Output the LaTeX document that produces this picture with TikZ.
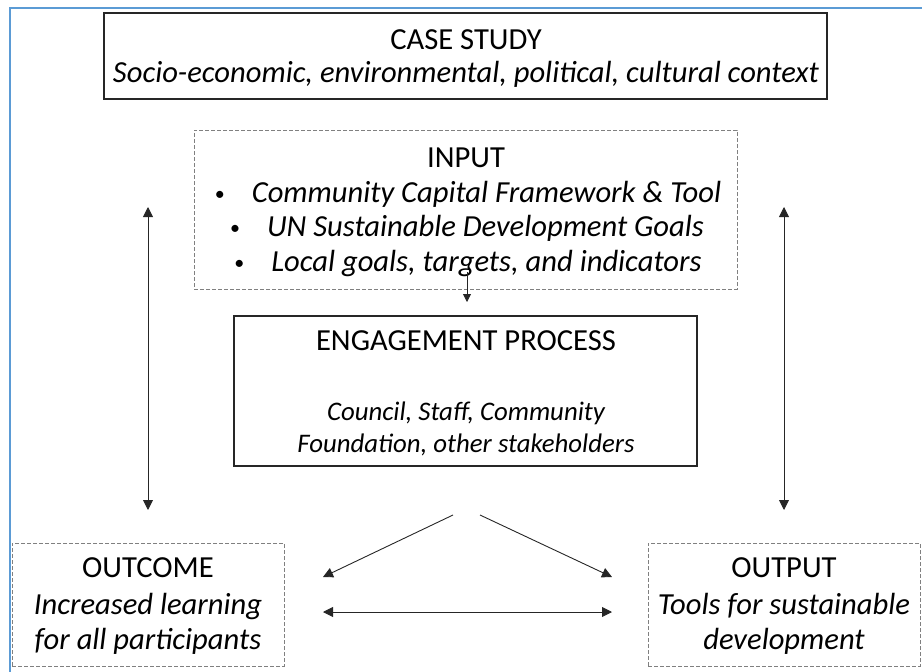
\documentclass[tikz,border=0pt]{standalone}
\usepackage{fontspec}
\setmainfont{Carlito}
\usetikzlibrary{arrows.meta}
\definecolor{frameblue}{RGB}{91,155,213}
\definecolor{dashgray}{RGB}{128,128,128}
\newcommand{\smallbul}{{\fontsize{20}{20}\selectfont\raisebox{2pt}{\textbullet}}\hspace{27pt}}
\begin{document}
\begin{tikzpicture}[x=1pt,y=-1pt,
  solidbox/.style={draw=black!85, line width=1.5pt, inner sep=0pt},
  dashbox/.style={draw=dashgray, line width=1pt, dash pattern=on 4pt off 2pt, inner sep=0pt},
  txt/.style={inner sep=0pt, anchor=base, font=\fontsize{30.6}{36}\selectfont},
  smalltxt/.style={inner sep=0pt, anchor=base, font=\fontsize{26.8}{31}\selectfont\itshape},
  conn/.style={draw=black!85, line width=0.9pt, -{Triangle[length=10pt,width=10pt]}},
  dconn/.style={draw=black!85, line width=0.9pt, {Triangle[length=10pt,width=10pt]}-{Triangle[length=10pt,width=10pt]}},
  sconn/.style={draw=black!85, line width=0.8pt, -{Triangle[length=8pt,width=8pt]}}
]
\useasboundingbox (0,0) rectangle (922,672);
% blue frame
\draw[frameblue, line width=2pt] (10,690) -- (10,8) -- (940,8);

% boxes
\node[solidbox, minimum width=723pt, minimum height=86pt] (case) at (465.5,56) {};
\node[dashbox, minimum width=543pt, minimum height=159pt] (input) at (465.5,209.5) {};
\node[solidbox, minimum width=463pt, minimum height=150pt] (eng) at (465.5,391) {};
\node[dashbox, minimum width=272pt, minimum height=123pt] (outcome) at (148,604.5) {};
\node[dashbox, minimum width=272pt, minimum height=123pt] (output) at (784,604.5) {};

% texts
\node[txt] (caset) at (466,49) {CASE STUDY};
\node[txt] (cases) at (466,82) {\itshape Socio-economic, environmental, political, cultural context};

\node[txt] (inputt) at (466,167) {INPUT};
\node[txt] (in1) at (468,202) {\smallbul\itshape Community Capital Framework \& Tool};
\node[txt] (in2) at (467,236) {\smallbul\itshape UN Sustainable Development Goals};
\node[txt] (in3) at (468,271) {\smallbul\itshape Local goals, targets, and indicators};

\node[txt] (engt) at (466,350) {ENGAGEMENT PROCESS};
\node[smalltxt] (eng1) at (466,420) {Council, Staff, Community};
\node[smalltxt] (eng2) at (466,452) {Foundation, other stakeholders};

\node[txt] (outct) at (148,577) {OUTCOME};
\node[txt] (outc1) at (148,614) {\itshape Increased learning};
\node[txt] (outc2) at (148,649) {\itshape for all participants};

\node[txt] (outpt) at (784,577) {OUTPUT};
\node[txt] (outp1) at (784,614) {\itshape Tools for sustainable};
\node[txt] (outp2) at (784,649) {\itshape development};

% connector end points
\coordinate (inA) at (467,272);
\coordinate (engA) at (467,302);
\coordinate (lTop) at (148,207);
\coordinate (lBot) at (148,510);
\coordinate (rTop) at (784,207);
\coordinate (rBot) at (784,510);
\coordinate (dL0) at (453,515);
\coordinate (dL1) at (323,577);
\coordinate (dR0) at (480,515);
\coordinate (dR1) at (612,577);
\coordinate (hL) at (323,612);
\coordinate (hR) at (612,612);

% connectors
\draw[sconn] (inA) -- (engA);
\draw[dconn] (lTop) -- (lBot);
\draw[dconn] (rTop) -- (rBot);
\draw[conn] (dL0) -- (dL1);
\draw[conn] (dR0) -- (dR1);
\draw[dconn] (hL) -- (hR);
\end{tikzpicture}
\end{document}
